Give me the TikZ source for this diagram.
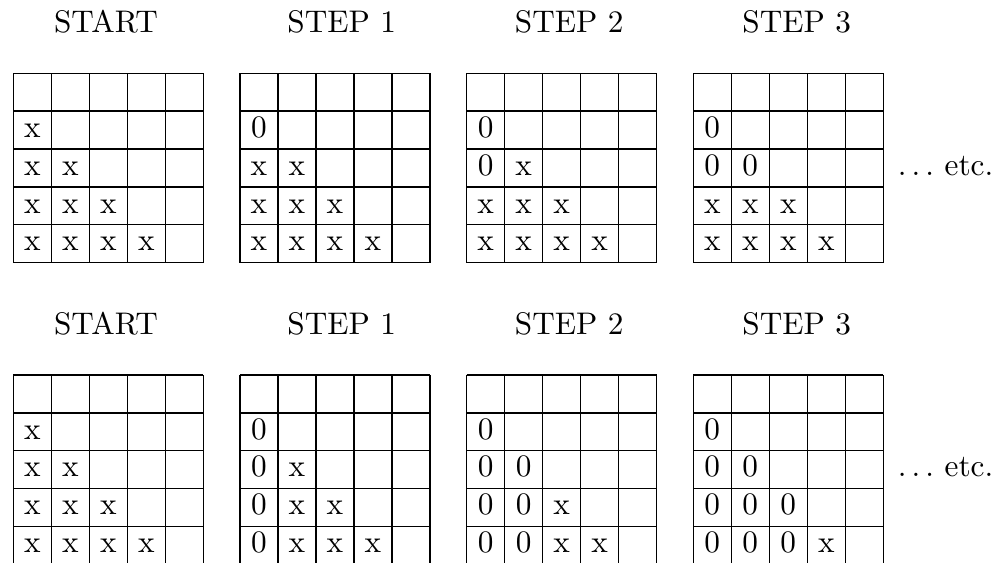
\documentclass[tikz,border=0pt]{standalone}
\usepackage{tikz}

\begin{document}
\begin{tikzpicture}[x=0.32pt, y=-0.32pt, line width=0.5pt,
    title/.style={anchor=base, inner sep=0pt},
    cell/.style={anchor=base, inner sep=0pt}]
    \useasboundingbox (0,0) rectangle (1005,563);
    \clip (0,0) rectangle (1005,563);
    % two rows of boards: 0 = one cell per step, 1 = one column per step
    \foreach \by/\bm in {73.3/0, 375/1} {
        \foreach \s/\lab/\lx in {0/START/106, 1/STEP 1/341.7, 2/STEP 2/569.2, 3/STEP 3/796.7} {
            \pgfmathsetmacro\gx{13.3+226.67*\s}
            \node[title] (title-\bm-\s) at (\lx,\by-40.3) {\lab};
            \foreach \k in {0,...,5} {
                \draw (\gx+\k*38,\by) -- ++(0,189.3);
                \draw (\gx,\by+\k*37.85) -- ++(190,0);
            }
            \foreach \r in {2,...,5} {
                \pgfmathtruncatemacro\last{\r-1}
                \foreach \c in {1,...,\last} {
                    \pgfmathtruncatemacro\z{\bm==0 ? ((\r-2)*(\r-1)/2+\c<=\s) : (\c<=\s)}
                    \node[cell] (b\bm-\s-\r-\c) at (\gx+\c*38-19,\by+\r*37.85-11.55)
                        {\ifnum\z=1 0\else x\fi};
                }
            }
        }
        \node[anchor=base west, inner sep=0pt] (etc-\bm) at (897,\by+102) {$\ldots$ etc.};
    }
\end{tikzpicture}
\end{document}
